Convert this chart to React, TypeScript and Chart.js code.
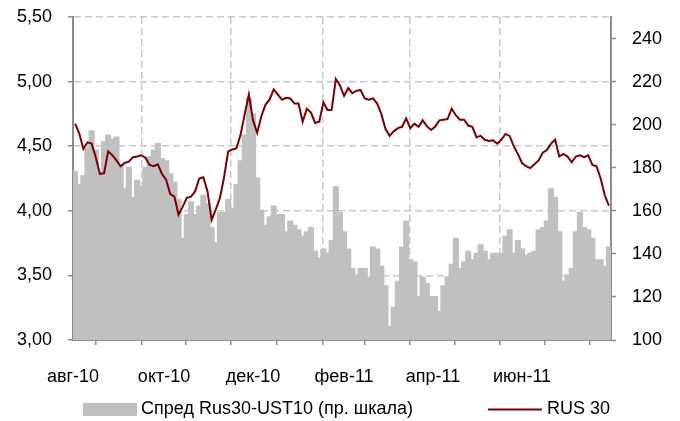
import { useEffect, useRef } from 'react';
import { Chart, registerables } from 'chart.js';

Chart.register(...registerables);

// Tick labels for month boundaries (Aug-10 ... Jul-11, end)
const TICK_LABELS = ['авг-10', '', 'окт-10', '', 'дек-10', '', 'фев-11', '', 'апр-11', '', 'июн-11', '', ''];

const SPREAD_LABEL = 'Спред Rus30-UST10 (пр. шкала)';
const RUS_LABEL = 'RUS 30';

// Spread Rus30-UST10, bp (right axis), every 2nd trading day from 02.08.2010
const SPREAD = [
  178, 172, 176, 189, 197, 188, 177, 192, 195, 193,
  194, 181, 170, 180, 166, 174, 171, 180, 185, 188,
  191, 184, 183, 177, 173, 165, 147, 158, 164, 158,
  162, 167, 163, 152, 145, 159, 159, 165, 161, 172,
  183, 195, 212, 205, 175, 160, 153, 157, 162, 158,
  158, 150, 155, 153, 151, 148, 150, 152, 141, 138,
  142, 140, 146, 171, 159, 150, 142, 133, 130, 133,
  133, 129, 143, 142, 134, 125, 106, 115, 127, 143,
  155, 137, 136, 120, 129, 126, 120, 120, 113, 125,
  129, 135, 147, 133, 136, 141, 137, 140, 144, 141,
  137, 140, 140, 140, 148, 151, 140, 146, 142, 139,
  140, 141, 151, 152, 155, 170, 166, 150, 127, 130,
  133, 150, 159, 152, 151, 147, 137, 137, 134, 143,
];

// RUS 30 yield, % (left axis)
const RUS30 = [
  4.675, 4.6, 4.48, 4.53, 4.52, 4.415, 4.285, 4.29, 4.46, 4.43,
  4.39, 4.345, 4.37, 4.38, 4.415, 4.42, 4.43, 4.41, 4.355, 4.345,
  4.36, 4.285, 4.24, 4.13, 4.11, 3.97, 4.03, 4.1, 4.11, 4.15,
  4.25, 4.26, 4.15, 3.93, 4.01, 4.1, 4.26, 4.46, 4.475, 4.485,
  4.59, 4.75, 4.9, 4.7, 4.605, 4.73, 4.82, 4.86, 4.94, 4.9,
  4.86, 4.875, 4.87, 4.83, 4.83, 4.69, 4.79, 4.76, 4.68, 4.69,
  4.84, 4.78, 4.78, 5.02, 4.97, 4.89, 4.95, 4.91, 4.93, 4.935,
  4.87, 4.86, 4.87, 4.83, 4.75, 4.635, 4.58, 4.615, 4.64, 4.65,
  4.715, 4.64, 4.675, 4.65, 4.7, 4.655, 4.625, 4.65, 4.7, 4.705,
  4.71, 4.79, 4.74, 4.705, 4.705, 4.66, 4.65, 4.57, 4.58, 4.55,
  4.54, 4.545, 4.52, 4.55, 4.595, 4.58, 4.5, 4.44, 4.37, 4.345,
  4.33, 4.36, 4.39, 4.45, 4.47, 4.52, 4.55, 4.42, 4.44, 4.42,
  4.375, 4.42, 4.43, 4.415, 4.43, 4.355, 4.345, 4.25, 4.12, 4.04,
];

const SAMPLE_STEP = 2;
const START = new Date(2010, 7, 2);
const END = new Date(2011, 6, 29);

function tradingDays(): Date[] {
  const out: Date[] = [];
  for (let d = new Date(START); d <= END; d.setDate(d.getDate() + 1)) {
    const wd = d.getDay();
    if (wd !== 0 && wd !== 6) out.push(new Date(d));
  }
  return out;
}

const DAYS = tradingDays();
const MONTH_TICKS: number[] = [];
DAYS.forEach((d, i) => {
  if (i === 0 || d.getMonth() !== DAYS[i - 1].getMonth()) MONTH_TICKS.push(i - 1);
});
MONTH_TICKS.push(DAYS.length - 1);

const FONT = { family: '"Liberation Sans", Arial, sans-serif', size: 18 };
const GRID = '#c8c8c8';
const AXIS = '#8c8c8c';
const BAR = '#c0c0c0';
const LINE = '#780000';

const legendPlugin = {
  id: 'customLegend',
  afterDraw(chart: any) {
    const ctx = chart.ctx;
    ctx.save();
    ctx.font = `${FONT.size}px ${FONT.family}`;
    ctx.textBaseline = 'middle';
    ctx.textAlign = 'left';
    const t1 = ctx.measureText(SPREAD_LABEL).width;
    const t2 = ctx.measureText(RUS_LABEL).width;
    const boxW = 54, boxH = 13, g1 = 4, gItems = 75, g2 = 5;
    const total = boxW + g1 + t1 + gItems + boxW + g2 + t2;
    let x = 346.5 - total / 2;
    const y = 409.5;
    ctx.fillStyle = BAR;
    ctx.fillRect(x, y - boxH / 2, boxW, boxH);
    x += boxW + g1;
    ctx.fillStyle = '#000';
    ctx.fillText(SPREAD_LABEL, x, y);
    x += t1 + gItems;
    ctx.strokeStyle = LINE;
    ctx.lineWidth = 2;
    ctx.beginPath();
    ctx.moveTo(x, y);
    ctx.lineTo(x + boxW, y);
    ctx.stroke();
    x += boxW + g2;
    ctx.fillText(RUS_LABEL, x, y);
    ctx.restore();
  },
};

const fitY = (width: number) => (s: any) => {
  s.width = width;
  s.paddingTop = 0;
  s.paddingBottom = 0;
};

export default function App() {
  const ref = useRef<HTMLCanvasElement>(null);
  useEffect(() => {
    if (!ref.current) return;
    const chart = new Chart(ref.current, {
      type: 'bar',
      data: {
        datasets: [
          {
            type: 'bar',
            label: SPREAD_LABEL,
            data: SPREAD.map((v, i) => ({ x: i * SAMPLE_STEP, y: v })),
            yAxisID: 'y1',
            backgroundColor: BAR,
            borderWidth: 0,
            inflateAmount: 1,
            barPercentage: 1,
            categoryPercentage: 1,
            order: 2,
          } as any,
          {
            type: 'line',
            label: RUS_LABEL,
            data: RUS30.map((v, i) => ({ x: i * SAMPLE_STEP, y: v })),
            yAxisID: 'y',
            borderColor: LINE,
            borderWidth: 2,
            pointRadius: 0,
            tension: 0,
            order: 1,
          } as any,
        ],
      },
      options: {
        responsive: false,
        animation: false,
        layout: { padding: { top: 17, bottom: 36, left: 0, right: 0 } },
        plugins: { legend: { display: false }, tooltip: { enabled: false } },
        scales: {
          x: {
            type: 'linear',
            min: -1,
            max: DAYS.length - 1,
            offset: false,
            afterBuildTicks: (s: any) => {
              s.ticks = MONTH_TICKS.map((v) => ({ value: v }));
            },
            afterFit: (s: any) => {
              s.height = 45;
            },
            ticks: {
              autoSkip: false,
              maxRotation: 0,
              padding: 21,
              font: FONT,
              color: '#000',
              callback: (_v: any, i: number) => TICK_LABELS[i] ?? '',
            },
            grid: {
              color: (c: any) => (c.index > 0 && c.index < MONTH_TICKS.length - 1 && c.index % 2 === 0 ? GRID : 'rgba(0,0,0,0)'),
              lineWidth: 1.5,
              tickLength: 5,
              tickColor: AXIS,
              tickWidth: 1.5,
              tickBorderDash: [],
            },
            border: { color: AXIS, width: 2, dash: [7, 4] },
          },
          y: {
            position: 'left',
            min: 3,
            max: 5.5,
            afterFit: fitY(73),
            ticks: {
              stepSize: 0.5,
              padding: 16,
              font: FONT,
              color: '#000',
              callback: (v: any) => Number(v).toFixed(2).replace('.', ','),
            },
            grid: {
              color: (c: any) => (c.index === 0 ? 'rgba(0,0,0,0)' : GRID),
              lineWidth: 1.5,
              tickLength: 5,
              tickColor: AXIS,
              tickWidth: 1.5,
              tickBorderDash: [],
            },
            border: { color: AXIS, width: 2, dash: [7, 4] },
          },
          y1: {
            position: 'right',
            min: 100,
            max: 250,
            afterBuildTicks: (s: any) => {
              s.ticks = s.ticks.filter((t: any) => t.value <= 240);
            },
            afterFit: fitY(69),
            ticks: { stepSize: 20, padding: 16, font: FONT, color: '#000' },
            grid: { drawOnChartArea: false, tickLength: 5, tickColor: AXIS, tickWidth: 1.5 },
            border: { color: AXIS, width: 2 },
          },
        },
      } as any,
      plugins: [legendPlugin],
    });
    return () => chart.destroy();
  }, []);
  return (
    <div style={{ position: 'absolute', left: 0, top: 0, width: 680, height: 421, background: '#fff' }}>
      <canvas ref={ref} width={680} height={421} />
    </div>
  );
}
